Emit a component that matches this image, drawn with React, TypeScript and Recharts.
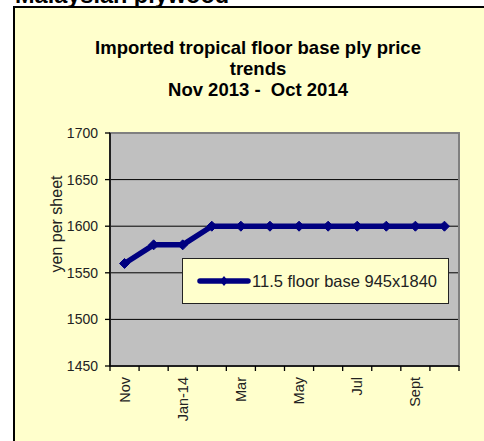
import React from 'react'
import {
  LineChart,
  Line,
  XAxis,
  YAxis,
  CartesianGrid,
  ReferenceArea,
  Legend,
} from 'recharts'

const MONTHS = ['Nov', 'Dec', 'Jan-14', 'Feb', 'Mar', 'Apr', 'May', 'Jun', 'Jul', 'Aug', 'Sept', 'Oct']
const PRICES = [1560, 1580, 1580, 1600, 1600, 1600, 1600, 1600, 1600, 1600, 1600, 1600]
const Y_TICKS = [1450, 1500, 1550, 1600, 1650, 1700]
const SERIES_NAME = '11.5 floor base 945x1840'

const data = MONTHS.map((m, i) => ({ month: m, price: PRICES[i] }))

const FONT = '"Liberation Sans", Arial, sans-serif'
const NAVY = '#000080'
const PLOT_W = 349

const Diamond = (props: any) => {
  const { cx, cy } = props
  if (cx == null || cy == null) return null
  return (
    <polygon
      points={`${cx},${cy - 5} ${cx + 5},${cy} ${cx},${cy + 5} ${cx - 5},${cy}`}
      fill={NAVY}
      stroke={NAVY}
    />
  )
}

const MonthTick = (props: any) => {
  const { x, y, payload, index } = props
  const step = PLOT_W / MONTHS.length
  const left = x - step / 2
  return (
    <g>
      <line x1={left} x2={left} y1={y} y2={y + 5} stroke="#000" strokeWidth={1.3} />
      {index === MONTHS.length - 1 && (
        <line x1={x + step / 2} x2={x + step / 2} y1={y} y2={y + 5} stroke="#000" strokeWidth={1.3} />
      )}
      {index % 2 === 0 && (
        <text
          x={x}
          y={y + 11}
          transform={`rotate(-90, ${x}, ${y + 11})`}
          textAnchor="end"
          dy="0.35em"
          fontSize={14.5}
          fontFamily={FONT}
          fill="#222"
        >
          {payload.value}
        </text>
      )}
    </g>
  )
}

const LegendBox = () => (
  <div
    style={{
      width: 267,
      height: 46,
      boxSizing: 'border-box',
      border: '1.5px solid #222',
      background: '#FFFFCC',
      display: 'flex',
      alignItems: 'center',
      paddingLeft: 14,
      fontFamily: FONT,
      fontSize: 16.5,
      color: '#222',
    }}
  >
    <svg width={54} height={12} style={{ display: 'block' }}>
      <line x1={3} x2={51} y1={6} y2={6} stroke={NAVY} strokeWidth={5.5} strokeLinecap="round" />
      <polygon points="27,1 31,6 27,11 23,6" fill={NAVY} />
    </svg>
    <span style={{ marginLeft: 1, whiteSpace: 'nowrap' }}>{SERIES_NAME}</span>
  </div>
)

export default function App() {
  return (
    <div
      style={{
        position: 'absolute',
        top: 0,
        left: 0,
        width: 484,
        height: 441,
        overflow: 'hidden',
        background: '#fff',
        fontFamily: FONT,
      }}
    >
      <div
        style={{
          position: 'absolute',
          left: 15,
          top: -16,
          fontSize: 23.5,
          lineHeight: 1,
          fontWeight: 'bold',
          whiteSpace: 'nowrap',
          color: '#000',
        }}
      >
        Malaysian plywood
      </div>
      <div
        style={{
          position: 'absolute',
          left: 13,
          top: 6,
          width: 520,
          height: 500,
          border: '2px solid #000',
          background: '#FFFFCC',
        }}
      />
      <div
        style={{
          position: 'absolute',
          left: 0,
          top: 38,
          width: 516,
          textAlign: 'center',
          fontSize: 18.5,
          lineHeight: '20.8px',
          fontWeight: 'bold',
          color: '#000',
        }}
      >
        Imported tropical floor base ply price
        <br />
        trends
        <br />
        Nov 2013 -&nbsp; Oct 2014
      </div>
      <div
        style={{
          position: 'absolute',
          left: 57,
          top: 224,
          transform: 'translate(-50%, -50%) rotate(-90deg)',
          fontSize: 16,
          whiteSpace: 'nowrap',
          color: '#222',
        }}
      >
        yen per sheet
      </div>
      <div style={{ position: 'absolute', left: 0, top: 0 }}>
        <LineChart
          width={484}
          height={441}
          data={data}
          margin={{ top: 133, right: 25, bottom: 15, left: 50 }}
        >
          <CartesianGrid
            vertical={false}
            stroke="#000"
            strokeWidth={1}
            fill="#C0C0C0"
            fillOpacity={1}
          />
          <ReferenceArea y1={1450} y2={1700} fill="none" stroke="#808080" strokeWidth={2} />
          <XAxis
            dataKey="month"
            scale="band"
            interval={0}
            height={60}
            tickSize={0}
            tickMargin={0}
            tickLine={false}
            axisLine={{ stroke: '#000', strokeWidth: 1.5 }}
            tick={<MonthTick />}
          />
          <YAxis
            width={60}
            domain={[1450, 1700]}
            ticks={Y_TICKS}
            interval={0}
            tickSize={5}
            tickMargin={7}
            axisLine={{ stroke: '#000', strokeWidth: 1.5 }}
            tickLine={{ stroke: '#000', strokeWidth: 1.3 }}
            tick={{ fontSize: 14, fontFamily: FONT, fill: '#222' }}
          />
          <Legend
            layout="vertical"
            align="center"
            verticalAlign="middle"
            wrapperStyle={{ left: 182, top: 258, width: 267, height: 46 }}
            content={() => <LegendBox />}
          />
          <Line
            type="linear"
            dataKey="price"
            name={SERIES_NAME}
            stroke={NAVY}
            strokeWidth={5.5}
            strokeLinejoin="round"
            dot={<Diamond />}
            activeDot={false}
            isAnimationActive={false}
          />
        </LineChart>
      </div>
    </div>
  )
}
